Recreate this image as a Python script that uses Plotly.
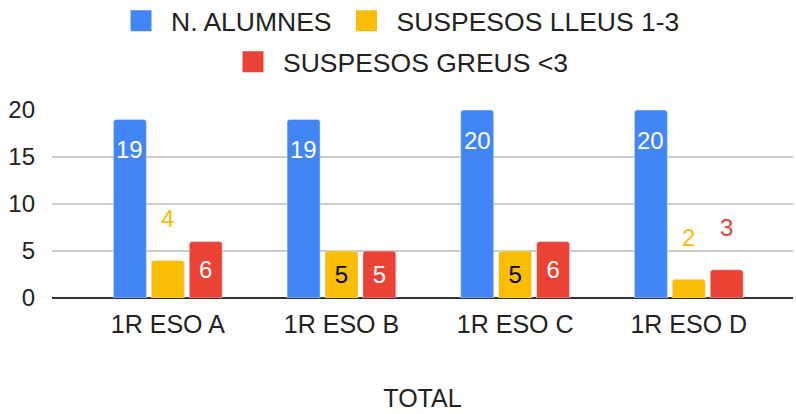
import plotly.graph_objects as go

grups = ["1R ESO A", "1R ESO B", "1R ESO C", "1R ESO D"]
n_alumnes = [19, 19, 20, 20]
suspesos_lleus = [4, 5, 5, 2]
suspesos_greus = [6, 5, 6, 3]

BLAU = "#4285F4"
GROC = "#FBBC04"
VERMELL = "#EA4335"
FONT = "Liberation Sans, Arial, sans-serif"

fig = go.Figure()

fig.add_trace(go.Bar(
    x=grups, y=n_alumnes, name="N. ALUMNES", marker=dict(color=BLAU, cornerradius=3),
    showlegend=False,
))

def posicions(vals):
    return ["inside" if v >= 5 else "none" for v in vals]

fig.add_trace(go.Bar(
    x=grups, y=suspesos_lleus, name="SUSPESOS LLEUS 1-3", marker=dict(color=GROC, cornerradius=3),
    text=suspesos_lleus, textposition=posicions(suspesos_lleus), insidetextanchor="middle",
    constraintext="none", textfont=dict(color="black", size=24), showlegend=False,
))
fig.add_trace(go.Bar(
    x=grups, y=suspesos_greus, name="SUSPESOS GREUS <3", marker=dict(color=VERMELL, cornerradius=3),
    text=suspesos_greus, textposition=posicions(suspesos_greus), insidetextanchor="middle",
    constraintext="none", textfont=dict(color="white", size=24), showlegend=False,
))

# entrades de llegenda amb quadrats grans
for nom, color, lg in [("N. ALUMNES", BLAU, "legend"), ("SUSPESOS LLEUS 1-3", GROC, "legend"),
                       ("SUSPESOS GREUS <3", VERMELL, "legend2")]:
    fig.add_trace(go.Scatter(
        x=[None], y=[None], mode="markers", name=nom, legend=lg,
        marker=dict(symbol="square", size=16, color=color, line=dict(color=color, width=5)),
    ))

# etiquetes de les barres blaves, una mica per sota del cim
for g, v in zip(grups, n_alumnes):
    fig.add_annotation(x=g, y=v, text=str(v), showarrow=False, xshift=-38, yshift=-30,
                       font=dict(color="white", size=24, family=FONT))

# etiquetes per sobre de les barres petites (estil Google Sheets)
for vals, color, dx in [(suspesos_lleus, GROC, 0), (suspesos_greus, VERMELL, 38)]:
    for g, v in zip(grups, vals):
        if v < 5:
            fig.add_annotation(x=g, y=v, text=str(v), showarrow=False, xshift=dx, yshift=42,
                               font=dict(color=color, size=24, family=FONT))

fig.update_layout(
    width=796, height=414,
    margin=dict(l=52, r=3, t=110, b=116, autoexpand=False),
    barmode="group", bargap=0.345, bargroupgap=0.13,
    plot_bgcolor="white", paper_bgcolor="white",
    font=dict(family=FONT, size=24, color="#222222"),
    legend=dict(orientation="h", xref="container", x=0.5, xanchor="center",
                yref="container", y=1 - 21 / 414, yanchor="middle", font=dict(size=26.5),
                itemwidth=50),
    legend2=dict(orientation="h", xref="container", x=0.5, xanchor="center",
                 yref="container", y=1 - 62 / 414, yanchor="middle", font=dict(size=26.5),
                 itemwidth=50),
    xaxis=dict(range=[-0.667, 3.6], showgrid=False, tickfont=dict(size=25, color="#222222"),
               ticklabelstandoff=9,
               title=dict(text="TOTAL", font=dict(size=25, color="#222222"), standoff=52)),
    yaxis=dict(range=[0, 20], tickvals=[0, 5, 10, 15, 20], gridcolor="#cccccc", gridwidth=1.5,
               zeroline=True, zerolinecolor="#333333", zerolinewidth=2,
               tickfont=dict(size=24, color="#222222"), ticklabelstandoff=16),
)

fig.write_html("out.html", config={"displayModeBar": False},
               post_script="document.body.style.margin='0';")
